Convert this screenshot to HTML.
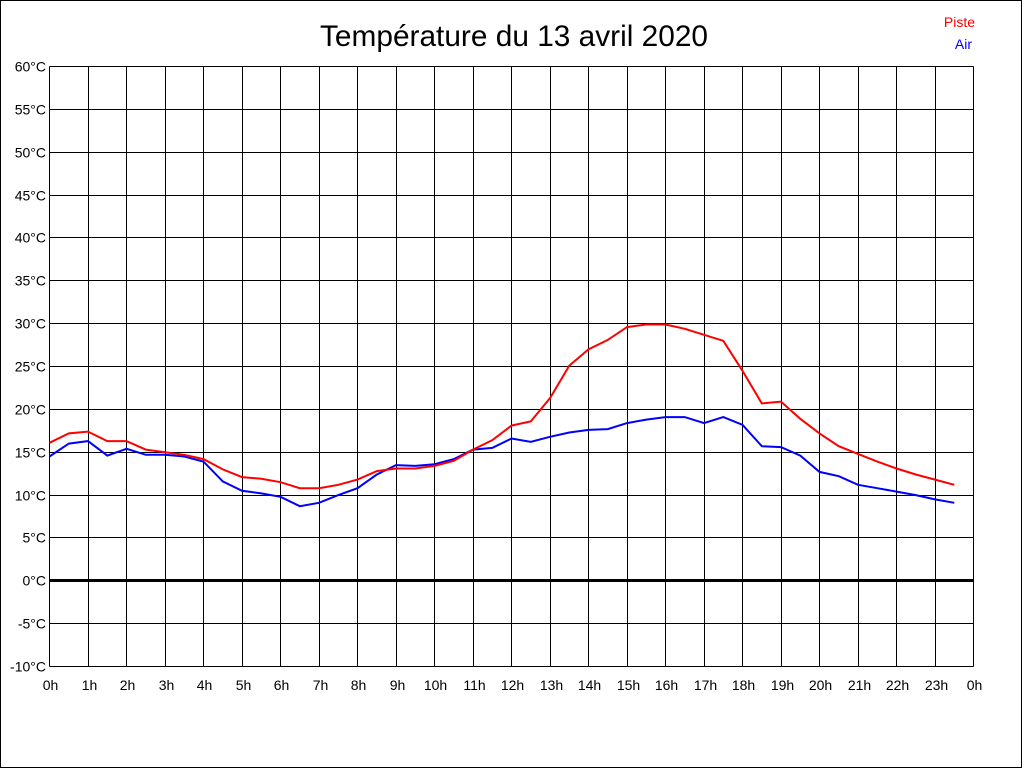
<!DOCTYPE html>
<html><head><meta charset="utf-8"><style>
html,body{margin:0;padding:0;background:#fff;width:1024px;height:768px;overflow:hidden}
svg{display:block}
text{font-family:"Liberation Sans",Arial,sans-serif}
</style></head><body>
<svg id="s" width="1024" height="768" xmlns="http://www.w3.org/2000/svg">
<rect x="0.5" y="0.5" width="1021" height="767" fill="#fff" stroke="#000" stroke-width="1" shape-rendering="crispEdges"/>
<text x="514" y="46" font-size="30" text-anchor="middle" textLength="388" lengthAdjust="spacingAndGlyphs">Température du 13 avril 2020</text>
<text x="975" y="27" font-size="14" fill="#f00" text-anchor="end">Piste</text>
<text x="972" y="49" font-size="14" fill="#00f" text-anchor="end">Air</text>
<g id="g"></g>
</svg>
<script>
var L=49.5,R=973.5,T=66.5,B=666.5,hw=(R-L)/24,dy=(B-T)/70;
var s='';
for(var i=0;i<=24;i++){var x=Math.round(L+i*hw-0.5)+0.5;s+='<line x1="'+x+'" y1="'+T+'" x2="'+x+'" y2="'+B+'" stroke="#000" shape-rendering="crispEdges"/>';
s+='<text x="'+(x+1)+'" y="690" font-size="14" text-anchor="middle">'+(i%24)+'h</text>';}
for(var v=-10;v<=60;v+=5){var y=Math.round(B-(v+10)*dy-0.5)+0.5;s+='<line x1="'+L+'" y1="'+y+'" x2="'+R+'" y2="'+y+'" stroke="#000" stroke-width="'+(v==0?3:1)+'" shape-rendering="crispEdges"/>';
s+='<text x="46" y="'+(y+5)+'" font-size="14" text-anchor="end">'+v+'°C</text>';}
var red=[16.1,17.2,17.4,16.3,16.3,15.3,15.0,14.7,14.2,13.0,12.1,11.9,11.5,10.8,10.8,11.2,11.8,12.8,13.1,13.1,13.4,14.0,15.3,16.4,18.1,18.6,21.3,25.1,27.0,28.1,29.6,29.9,29.9,29.4,28.7,28.0,24.5,20.7,20.9,18.9,17.2,15.7,14.8,13.9,13.1,12.4,11.8,11.2];
var blue=[14.5,16.0,16.3,14.6,15.4,14.7,14.7,14.5,13.9,11.6,10.5,10.2,9.8,8.7,9.1,10.0,10.8,12.4,13.5,13.4,13.6,14.2,15.3,15.5,16.6,16.2,16.8,17.3,17.6,17.7,18.4,18.8,19.1,19.1,18.4,19.1,18.2,15.7,15.6,14.6,12.7,12.2,11.2,10.8,10.4,10.0,9.5,9.1];
function pl(d,c){var p=d.map(function(v,i){return (L+i*hw/2).toFixed(1)+','+(B-(v+10)*dy).toFixed(1)}).join(' ');
return '<polyline points="'+p+'" fill="none" stroke="'+c+'" stroke-width="2"/>';}
s+=pl(blue,'#00f')+pl(red,'#f00');
document.getElementById('g').innerHTML=s;
</script>
</body></html>
